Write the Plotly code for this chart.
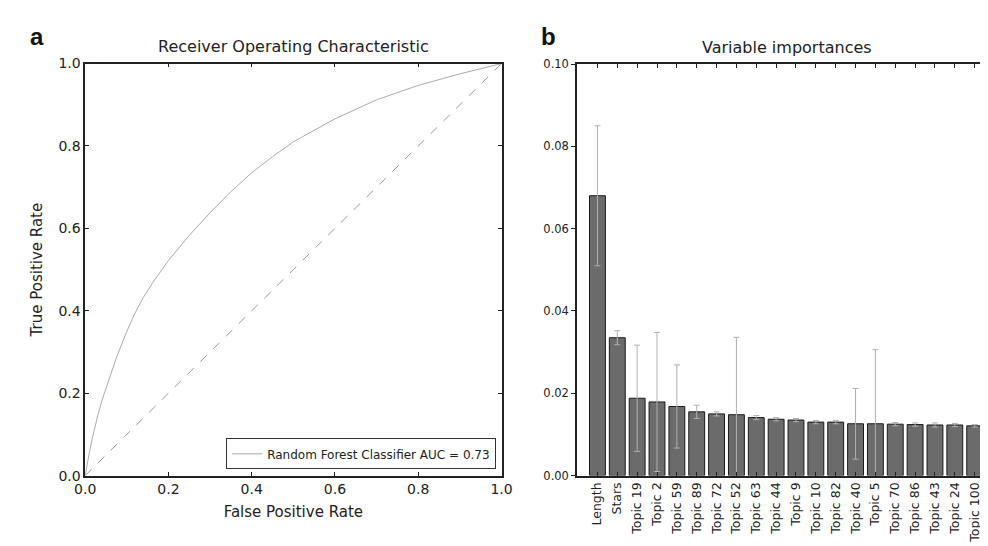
import plotly.graph_objects as go

# ROC curve data
fpr = [0.0, 0.005, 0.01, 0.017, 0.025, 0.03, 0.041, 0.055, 0.076, 0.1, 0.119, 0.14, 0.162,
       0.2, 0.25, 0.3, 0.35, 0.4, 0.45, 0.5, 0.6, 0.7, 0.8, 0.9, 1.0]
tpr = [0.0, 0.03, 0.056, 0.09, 0.125, 0.145, 0.185, 0.229, 0.289, 0.35, 0.393, 0.433, 0.468,
       0.522, 0.583, 0.638, 0.689, 0.735, 0.774, 0.81, 0.866, 0.912, 0.947, 0.975, 1.0]
diag = [0.0, 1.0]

# Variable importances data
features = ["Length", "Stars", "Topic 19", "Topic 2", "Topic 59", "Topic 89", "Topic 72",
            "Topic 52", "Topic 63", "Topic 44", "Topic 9", "Topic 10", "Topic 82",
            "Topic 40", "Topic 5", "Topic 70", "Topic 86", "Topic 43", "Topic 24", "Topic 100"]
importance = [0.0680, 0.0335, 0.0188, 0.0179, 0.0168, 0.0155, 0.0150, 0.0148, 0.0141,
              0.0137, 0.0135, 0.0130, 0.0130, 0.0126, 0.0126, 0.0125, 0.0124, 0.0123,
              0.0123, 0.0121]
std_dev = [0.0170, 0.0017, 0.0129, 0.0169, 0.0101, 0.0016, 0.0005, 0.0188, 0.0005,
           0.0004, 0.0004, 0.0004, 0.0004, 0.0086, 0.0180, 0.0004, 0.0004, 0.0005,
           0.0004, 0.0003]

W, H = 988, 546
FONT = "DejaVu Sans"
AX = "#222222"

fig = go.Figure()

fig.add_trace(go.Scatter(x=fpr, y=tpr, mode="lines", line=dict(color="#aaaaaa", width=1),
                         name="Random Forest Classifier AUC = 0.73", xaxis="x", yaxis="y",
                         showlegend=True))
fig.add_trace(go.Scatter(x=diag, y=diag, mode="lines", line=dict(color="#999999", width=1, dash="dash"),
                         showlegend=False, xaxis="x", yaxis="y"))

fig.add_trace(go.Bar(x=features, y=importance,
                     error_y=dict(type="data", array=std_dev, visible=True, color="#b0b0b0",
                                  thickness=1, width=3),
                     marker=dict(color="#6b6b6b", line=dict(color="#1a1a1a", width=1)),
                     width=0.8, showlegend=False, xaxis="x2", yaxis="y2"))


def px_x(p):
    return p / W


def px_y(p):
    return 1 - p / H


fig.update_layout(
    width=W, height=H,
    margin=dict(l=0, r=0, t=0, b=0),
    paper_bgcolor="white", plot_bgcolor="white",
    font=dict(family=FONT, color="#222222"),
    xaxis=dict(domain=[px_x(67.7), px_x(493.5)], range=[0, 1], dtick=0.2, tickformat=".1f",
               showline=True, linecolor=AX, linewidth=1.5, mirror="ticks", ticks="inside",
               ticklen=4, tickcolor=AX, showgrid=False, zeroline=False,
               tickfont=dict(size=14), anchor="y",
               title=dict(text="False Positive Rate", font=dict(size=15), standoff=10)),
    yaxis=dict(domain=[px_y(473.5), px_y(49)], range=[0, 1], dtick=0.2, tickformat=".1f",
               showline=True, linecolor=AX, linewidth=1.5, mirror="ticks", ticks="inside",
               ticklen=4, tickcolor=AX, showgrid=False, zeroline=False,
               tickfont=dict(size=14), anchor="x",
               title=dict(text="True Positive Rate", font=dict(size=15), standoff=12)),
    xaxis2=dict(domain=[px_x(570.7), 1.0], range=[-1.03, 19.52], anchor="y2",
                showline=True, linecolor=AX, linewidth=1.5, mirror="ticks", ticks="inside",
                ticklen=4, tickcolor=AX, showgrid=False, zeroline=False,
                tickangle=-90, tickfont=dict(size=12.5)),
    yaxis2=dict(domain=[px_y(473.5), px_y(49.5)], range=[0, 0.1], dtick=0.02, tickformat=".2f",
                showline=True, linecolor=AX, linewidth=1.5, mirror=False, ticks="outside",
                ticklen=4, tickcolor=AX, showgrid=False, zeroline=False,
                tickfont=dict(size=11.5), anchor="x2"),
    legend=dict(x=px_x(488), y=px_y(467), xanchor="right", yanchor="bottom",
                bgcolor="white", bordercolor="#333333", borderwidth=1,
                font=dict(size=12), itemwidth=30, tracegroupgap=0),
    annotations=[
        dict(text="Receiver Operating Characteristic", x=px_x(280.5), y=px_y(31),
             xref="paper", yref="paper", showarrow=False, font=dict(size=16),
             xanchor="center", yanchor="middle"),
        dict(text="Variable importances", x=px_x(785), y=px_y(32),
             xref="paper", yref="paper", showarrow=False, font=dict(size=16),
             xanchor="center", yanchor="middle"),
        dict(text="<b>a</b>", x=px_x(9), y=px_y(21), xref="paper", yref="paper",
             showarrow=False, font=dict(size=24, family="Liberation Sans", color="#111111"),
             xanchor="left", yanchor="middle"),
        dict(text="<b>b</b>", x=px_x(532), y=px_y(21), xref="paper", yref="paper",
             showarrow=False, font=dict(size=24, family="Liberation Sans", color="#111111"),
             xanchor="left", yanchor="middle"),
    ],
)

fig.write_html("out.html")
